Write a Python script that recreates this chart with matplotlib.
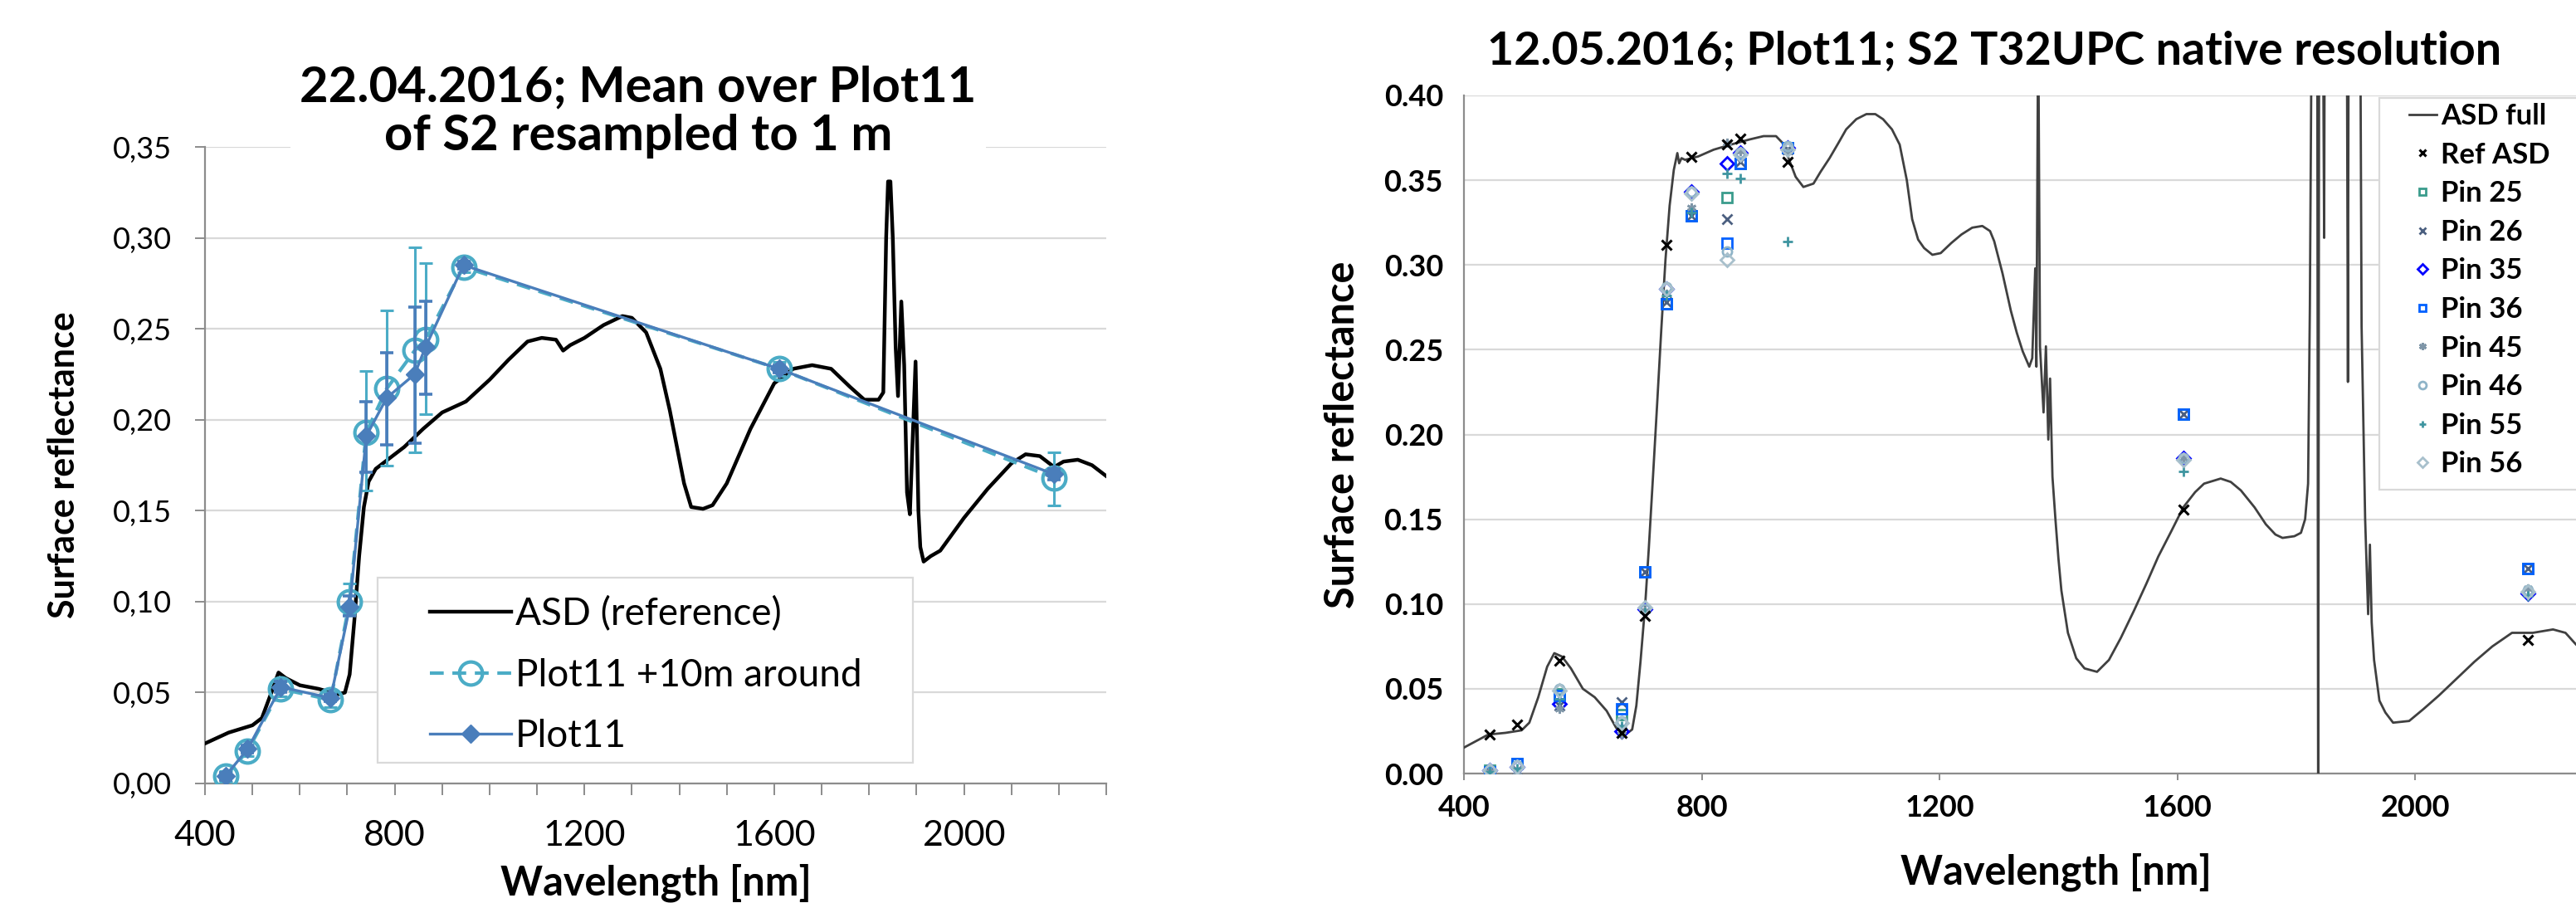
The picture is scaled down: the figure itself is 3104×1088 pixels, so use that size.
"""
Two Sentinel-2 vs ASD surface reflectance panels (Plot11, spring 2016).
Left: 22.04.2016 mean over Plot11, S2 resampled to 1 m.
Right: 12.05.2016 single pins, S2 T32UPC native resolution.
"""

import numpy as np
import matplotlib
matplotlib.use("Agg")
import matplotlib.pyplot as plt
from matplotlib.patches import Rectangle
from matplotlib.ticker import MultipleLocator, FixedLocator

plt.rcParams["font.family"] = ["Lato", "DejaVu Sans"]

# ─── Data: left panel (22.04.2016) ──────────────────────────────────────────
ASD_L_WL = [400, 450, 500, 520, 540, 555, 570, 600, 640, 680, 695, 705, 715, 725,
            735, 745, 760, 780, 820, 860, 900, 950, 1000, 1040, 1080, 1110, 1140,
            1155, 1170, 1200, 1240, 1280, 1300, 1330, 1360, 1380, 1395, 1410, 1425,
            1450, 1470, 1500, 1550, 1600, 1640, 1680, 1720, 1760, 1790, 1820, 1830,
            1836, 1840, 1845, 1850, 1856, 1861, 1868, 1874, 1880, 1886, 1892, 1898,
            1904, 1908, 1915, 1930, 1950, 2000, 2050, 2100, 2130, 2160, 2190, 2210,
            2240, 2270, 2300]
ASD_L_R = [0.022, 0.028, 0.032, 0.036, 0.050, 0.061, 0.058, 0.054, 0.052, 0.049,
           0.050, 0.060, 0.090, 0.125, 0.152, 0.166, 0.173, 0.177, 0.185, 0.195,
           0.204, 0.210, 0.222, 0.233, 0.243, 0.245, 0.244, 0.238, 0.241, 0.245,
           0.252, 0.257, 0.256, 0.248, 0.228, 0.205, 0.185, 0.165, 0.152, 0.151,
           0.153, 0.165, 0.195, 0.220, 0.228, 0.230, 0.228, 0.218, 0.211, 0.211,
           0.215, 0.300, 0.331, 0.331, 0.300, 0.240, 0.213, 0.265, 0.230, 0.160,
           0.148, 0.190, 0.232, 0.150, 0.130, 0.122, 0.125, 0.128, 0.146, 0.162,
           0.176, 0.181, 0.180, 0.174, 0.177, 0.178, 0.175, 0.169]

S2_BANDS = [443, 490, 560, 665, 705, 740, 783, 842, 865, 945, 1610, 2190]

AROUND_R  = [0.004, 0.018, 0.052, 0.046, 0.100, 0.193, 0.217, 0.238, 0.244, 0.284, 0.228, 0.168]
AROUND_LO = [0.001, 0.015, 0.048, 0.042, 0.093, 0.161, 0.175, 0.182, 0.203, 0.281, 0.224, 0.153]
AROUND_HI = [0.007, 0.021, 0.056, 0.050, 0.110, 0.227, 0.260, 0.295, 0.286, 0.287, 0.232, 0.182]

PLOT11_R  = [0.004, 0.019, 0.053, 0.047, 0.097, 0.191, 0.212, 0.225, 0.240, 0.285, 0.228, 0.170]
PLOT11_LO = [0.002, 0.017, 0.050, 0.045, 0.092, 0.171, 0.186, 0.187, 0.214, 0.283, 0.226, 0.167]
PLOT11_HI = [0.006, 0.021, 0.056, 0.049, 0.103, 0.210, 0.237, 0.262, 0.265, 0.287, 0.230, 0.173]

X_TICKS_L = [400, 800, 1200, 1600, 2000]
Y_TICKS_L = [0.00, 0.05, 0.10, 0.15, 0.20, 0.25, 0.30, 0.35]
Y_LABELS_L = ["0,00", "0,05", "0,10", "0,15", "0,20", "0,25", "0,30", "0,35"]

# ─── Data: right panel (12.05.2016) ─────────────────────────────────────────
ASD_R_WL = [400, 441, 470, 497, 510, 525, 540, 552, 565, 580, 600, 620, 640, 656,
            672, 683, 690, 697, 705, 711, 718, 725, 732, 739, 746, 753, 759, 762,
            766, 772, 794, 820, 849, 880, 904, 925, 936, 946, 958, 971, 988, 1000,
            1015, 1030, 1043, 1060, 1077, 1092, 1105, 1120, 1133, 1145, 1154, 1164,
            1174, 1188, 1202, 1220, 1237, 1255, 1272, 1285, 1292, 1306, 1320, 1330,
            1340, 1351, 1356, 1361, 1363, 1366, 1369, 1375, 1379, 1383, 1386, 1390,
            1395, 1400, 1405, 1416, 1430, 1444, 1465, 1485, 1505, 1527, 1548, 1568,
            1590, 1610, 1630, 1645, 1673, 1690, 1707, 1730, 1749, 1765, 1777, 1797,
            1808, 1815, 1820, 1823, 1826, 1831, 1835, 1837, 1839, 1843, 1847, 1849,
            1851, 1884, 1887, 1889, 1906, 1910, 1912, 1916, 1921, 1924, 1927, 1931,
            1940, 1950, 1963, 1990, 2014, 2040, 2070, 2100, 2130, 2163, 2198, 2232,
            2253, 2271, 2300]
ASD_R_R = [0.0153, 0.023, 0.024, 0.0255, 0.030, 0.045, 0.063, 0.071, 0.069, 0.062,
           0.050, 0.045, 0.037, 0.027, 0.023, 0.026, 0.040, 0.066, 0.100, 0.133,
           0.175, 0.218, 0.262, 0.303, 0.335, 0.356, 0.366, 0.360, 0.363, 0.362,
           0.364, 0.368, 0.371, 0.374, 0.376, 0.376, 0.372, 0.363, 0.352, 0.346,
           0.348, 0.355, 0.363, 0.372, 0.380, 0.386, 0.389, 0.389, 0.386, 0.380,
           0.371, 0.350, 0.327, 0.315, 0.310, 0.306, 0.307, 0.313, 0.318, 0.322,
           0.323, 0.320, 0.314, 0.295, 0.273, 0.260, 0.249, 0.240, 0.245, 0.298,
           0.240, 0.450, 0.252, 0.213, 0.252, 0.197, 0.233, 0.175, 0.150, 0.127,
           0.108, 0.083, 0.068, 0.062, 0.060, 0.067, 0.080, 0.096, 0.112, 0.128,
           0.143, 0.157, 0.166, 0.171, 0.174, 0.172, 0.167, 0.157, 0.147, 0.141,
           0.139, 0.140, 0.142, 0.150, 0.171, 0.276, 0.450, 0.600, 0.600, -0.050,
           0.600, 0.600, 0.316, 0.600, 0.600, 0.600, 0.231, 0.600, 0.600, 0.264,
           0.226, 0.150, 0.094, 0.135, 0.089, 0.067, 0.043, 0.036, 0.030, 0.031,
           0.038, 0.046, 0.056, 0.066, 0.075, 0.083, 0.083, 0.085, 0.083, 0.076,
           0.070]

REF_ASD = [0.023, 0.029, 0.0666, 0.024, 0.093, 0.312, 0.364, 0.371, 0.3745, 0.361, 0.1555, 0.079]

PIN_25 = [0.002, 0.006, 0.047, 0.035, 0.119, 0.277, 0.329, 0.340, 0.360, 0.369, 0.212, 0.121]
PIN_26 = [0.001, 0.002, 0.040, 0.042, 0.119, 0.278, 0.329, 0.327, 0.361, 0.368, 0.212, 0.121]
PIN_35 = [0.002, 0.004, 0.041, 0.025, 0.097, 0.286, 0.343, 0.360, 0.366, 0.369, 0.186, 0.106]
PIN_36 = [0.001, 0.006, 0.046, 0.038, 0.119, 0.277, 0.329, 0.313, 0.360, 0.369, 0.212, 0.121]
PIN_45 = [0.001, 0.001, 0.038, 0.023, 0.096, 0.283, 0.334, 0.372, 0.367, 0.367, 0.186, 0.109]
PIN_46 = [0.002, 0.005, 0.050, 0.031, 0.097, 0.287, 0.343, 0.308, 0.366, 0.370, 0.186, 0.108]
PIN_55 = [0.001, 0.003, 0.044, 0.028, 0.095, 0.282, 0.331, 0.354, 0.351, 0.314, 0.178, 0.105]
PIN_56 = [0.002, 0.004, 0.049, 0.030, 0.098, 0.286, 0.342, 0.303, 0.365, 0.368, 0.185, 0.107]

PIN_NAMES = ["Pin 25", "Pin 26", "Pin 35", "Pin 36", "Pin 45", "Pin 46", "Pin 55", "Pin 56"]

X_TICKS_R = [400, 800, 1200, 1600, 2000]
Y_TICKS_R = [0.00, 0.05, 0.10, 0.15, 0.20, 0.25, 0.30, 0.35, 0.40]
Y_LABELS_R = ["0.00", "0.05", "0.10", "0.15", "0.20", "0.25", "0.30", "0.35", "0.40"]

# ─── Styles ─────────────────────────────────────────────────────────────────
W, H = 3104, 1088
GRID = "#D9D9D9"
AXIS = "#8C8C8C"
CYAN = "#4BACC6"
BLUE = "#4A7EBB"

PIN_STYLES = [
    dict(marker="s", color="#3A9C8C", mfc="none"),
    dict(marker="x", color="#4B5F80"),
    dict(marker="D", color="#0000FF", mfc="none"),
    dict(marker="s", color="#0060FF", mfc="none"),
    dict(marker=(6, 2, 0), color="#7F96A8"),
    dict(marker="o", color="#8FB4C8", mfc="none"),
    dict(marker="+", color="#3F95A0"),
    dict(marker="D", color="#A8C0CC", mfc="none"),
]


def px_axes(fig, left, top, right, bottom):
    return fig.add_axes([left / W, (H - bottom) / H, (right - left) / W, (bottom - top) / H])


def px_box(left, top, right, bottom, ax_px):
    """Pixel rectangle -> axes-fraction (x0, y0, w, h) for an axes at ax_px."""
    al, at, ar, ab = ax_px
    return ((left - al) / (ar - al), (ab - bottom) / (ab - at),
            (right - left) / (ar - al), (bottom - top) / (ab - at))


def px_point(x, y, ax_px):
    al, at, ar, ab = ax_px
    return (x - al) / (ar - al), (ab - y) / (ab - at)


def style_axes(ax):
    ax.grid(axis="y", color=GRID, lw=1.6)
    ax.set_axisbelow(True)
    for side in ("top", "right"):
        ax.spines[side].set_visible(False)
    for side in ("left", "bottom"):
        ax.spines[side].set_color(AXIS)
        ax.spines[side].set_linewidth(1.6)


def main():
    fig = plt.figure(figsize=(W / 100, H / 100), dpi=100)

    # ── Left panel ─────────────────────────────────────────────────────────
    L_PX = (247, 177, 1333, 944)
    ax = px_axes(fig, *L_PX)
    bands = np.array(S2_BANDS)

    ax.plot(ASD_L_WL, ASD_L_R, color="black", lw=3.2, zorder=3, label="ASD (reference)")

    a_r = np.array(AROUND_R)
    ax.errorbar(bands, a_r, yerr=[a_r - np.array(AROUND_LO), np.array(AROUND_HI) - a_r],
                fmt="none", ecolor=CYAN, elinewidth=2.2, capsize=6, capthick=2.2, zorder=4)
    ax.plot(bands, a_r, color=CYAN, lw=3, dashes=(4, 2.5), marker="o", ms=20,
            mfc="none", mec=CYAN, mew=3, zorder=5, label="Plot11 +10m around")

    p_r = np.array(PLOT11_R)
    ax.errorbar(bands, p_r, yerr=[p_r - np.array(PLOT11_LO), np.array(PLOT11_HI) - p_r],
                fmt="none", ecolor=BLUE, elinewidth=2.6, capsize=6, capthick=2.6, zorder=6)
    ax.plot(bands, p_r, color=BLUE, lw=2.4, marker="D", ms=11, mfc=BLUE, mec=BLUE,
            zorder=7, label="Plot11")

    ax.set_xlim(400, 2300)
    ax.set_ylim(0, 0.35)
    ax.xaxis.set_major_locator(FixedLocator(X_TICKS_L))
    ax.xaxis.set_minor_locator(MultipleLocator(100))
    ax.set_yticks(Y_TICKS_L)
    ax.set_yticklabels(Y_LABELS_L)
    style_axes(ax)
    ax.tick_params(axis="x", which="both", direction="out", length=10, width=1.4,
                   color=AXIS, labelsize=31, pad=22)
    ax.tick_params(axis="y", direction="out", length=9, width=1.4, color=AXIS,
                   labelsize=26, pad=20)
    ax.set_xlabel("Wavelength [nm]", fontsize=35, fontweight="bold", va="center")
    ax.xaxis.set_label_coords(*px_point(790, 1064, L_PX))
    ax.set_ylabel("Surface reflectance", fontsize=31, fontweight="bold", labelpad=28)

    # Excel-style legend box
    x0, y0, w0, h0 = px_box(455, 696, 1100, 919, L_PX)
    ax.add_patch(Rectangle((x0, y0), w0, h0, transform=ax.transAxes, facecolor="white",
                           edgecolor=GRID, lw=1.6, zorder=8))
    leg = ax.legend(loc="upper left", bbox_to_anchor=px_point(518, 718, L_PX),
                    borderaxespad=0, borderpad=0, frameon=False, fontsize=33,
                    handlelength=2.14, handletextpad=0.1, labelspacing=0.69)
    leg.set_zorder(9)

    fig.text(769 / W, 1 - 135 / H, "22.04.2016; Mean over Plot11\nof S2 resampled to 1 m",
             ha="center", va="center", fontsize=43, fontweight="bold", linespacing=1.1,
             bbox=dict(facecolor="white", edgecolor="none", pad=8), zorder=10)

    # ── Right panel ────────────────────────────────────────────────────────
    R_PX = (1764, 115, 3125, 932)
    bx = px_axes(fig, *R_PX)
    bx.plot(ASD_R_WL, ASD_R_R, color="#404040", lw=2.0, zorder=3, label="ASD full")
    bx.plot(bands, REF_ASD, ls="none", marker="x", ms=8, mew=2.2, color="black",
            zorder=5, label="Ref ASD")
    pins = [PIN_25, PIN_26, PIN_35, PIN_36, PIN_45, PIN_46, PIN_55, PIN_56]
    for name, vals, st in zip(PIN_NAMES, pins, PIN_STYLES):
        bx.plot(bands, vals, ls="none", ms=8, mew=2.0, zorder=4, label=name,
                marker=st["marker"], color=st["color"], mec=st["color"],
                mfc=st.get("mfc", st["color"]))

    bx.set_xlim(400, 2300)
    bx.set_ylim(0, 0.40)
    bx.set_xticks(X_TICKS_R)
    bx.set_yticks(Y_TICKS_R)
    bx.set_yticklabels(Y_LABELS_R)
    style_axes(bx)
    bx.tick_params(axis="x", direction="out", length=6, width=1.4, color=AXIS,
                   labelsize=26, pad=12)
    bx.tick_params(axis="y", length=0, labelsize=26, pad=18)
    for lab in bx.get_xticklabels() + bx.get_yticklabels():
        lab.set_fontweight("bold")
    bx.set_xlabel("Wavelength [nm]", fontsize=35, fontweight="bold", va="center")
    bx.xaxis.set_label_coords(*px_point(2477, 1051, R_PX))
    bx.set_ylabel("Surface reflectance", fontsize=35, fontweight="bold", labelpad=20)

    x0, y0, w0, h0 = px_box(2867, 118, 3125, 590, R_PX)
    bx.add_patch(Rectangle((x0, y0), w0, h0, transform=bx.transAxes, facecolor="white",
                           edgecolor=GRID, lw=1.6, zorder=8, clip_on=False))
    leg2 = bx.legend(loc="upper left", bbox_to_anchor=px_point(2903, 124, R_PX),
                     borderaxespad=0, borderpad=0, frameon=False,
                     prop=dict(weight="bold", size=25), handlelength=0.95,
                     handletextpad=0.15, labelspacing=0.42, markerscale=0.8)
    leg2.set_zorder(9)

    fig.text(2403 / W, 1 - 61 / H, "12.05.2016; Plot11; S2 T32UPC native resolution",
             ha="center", va="center", fontsize=40, fontweight="bold")

    fig.savefig("out.png", dpi=100)
    plt.close(fig)


if __name__ == "__main__":
    main()
